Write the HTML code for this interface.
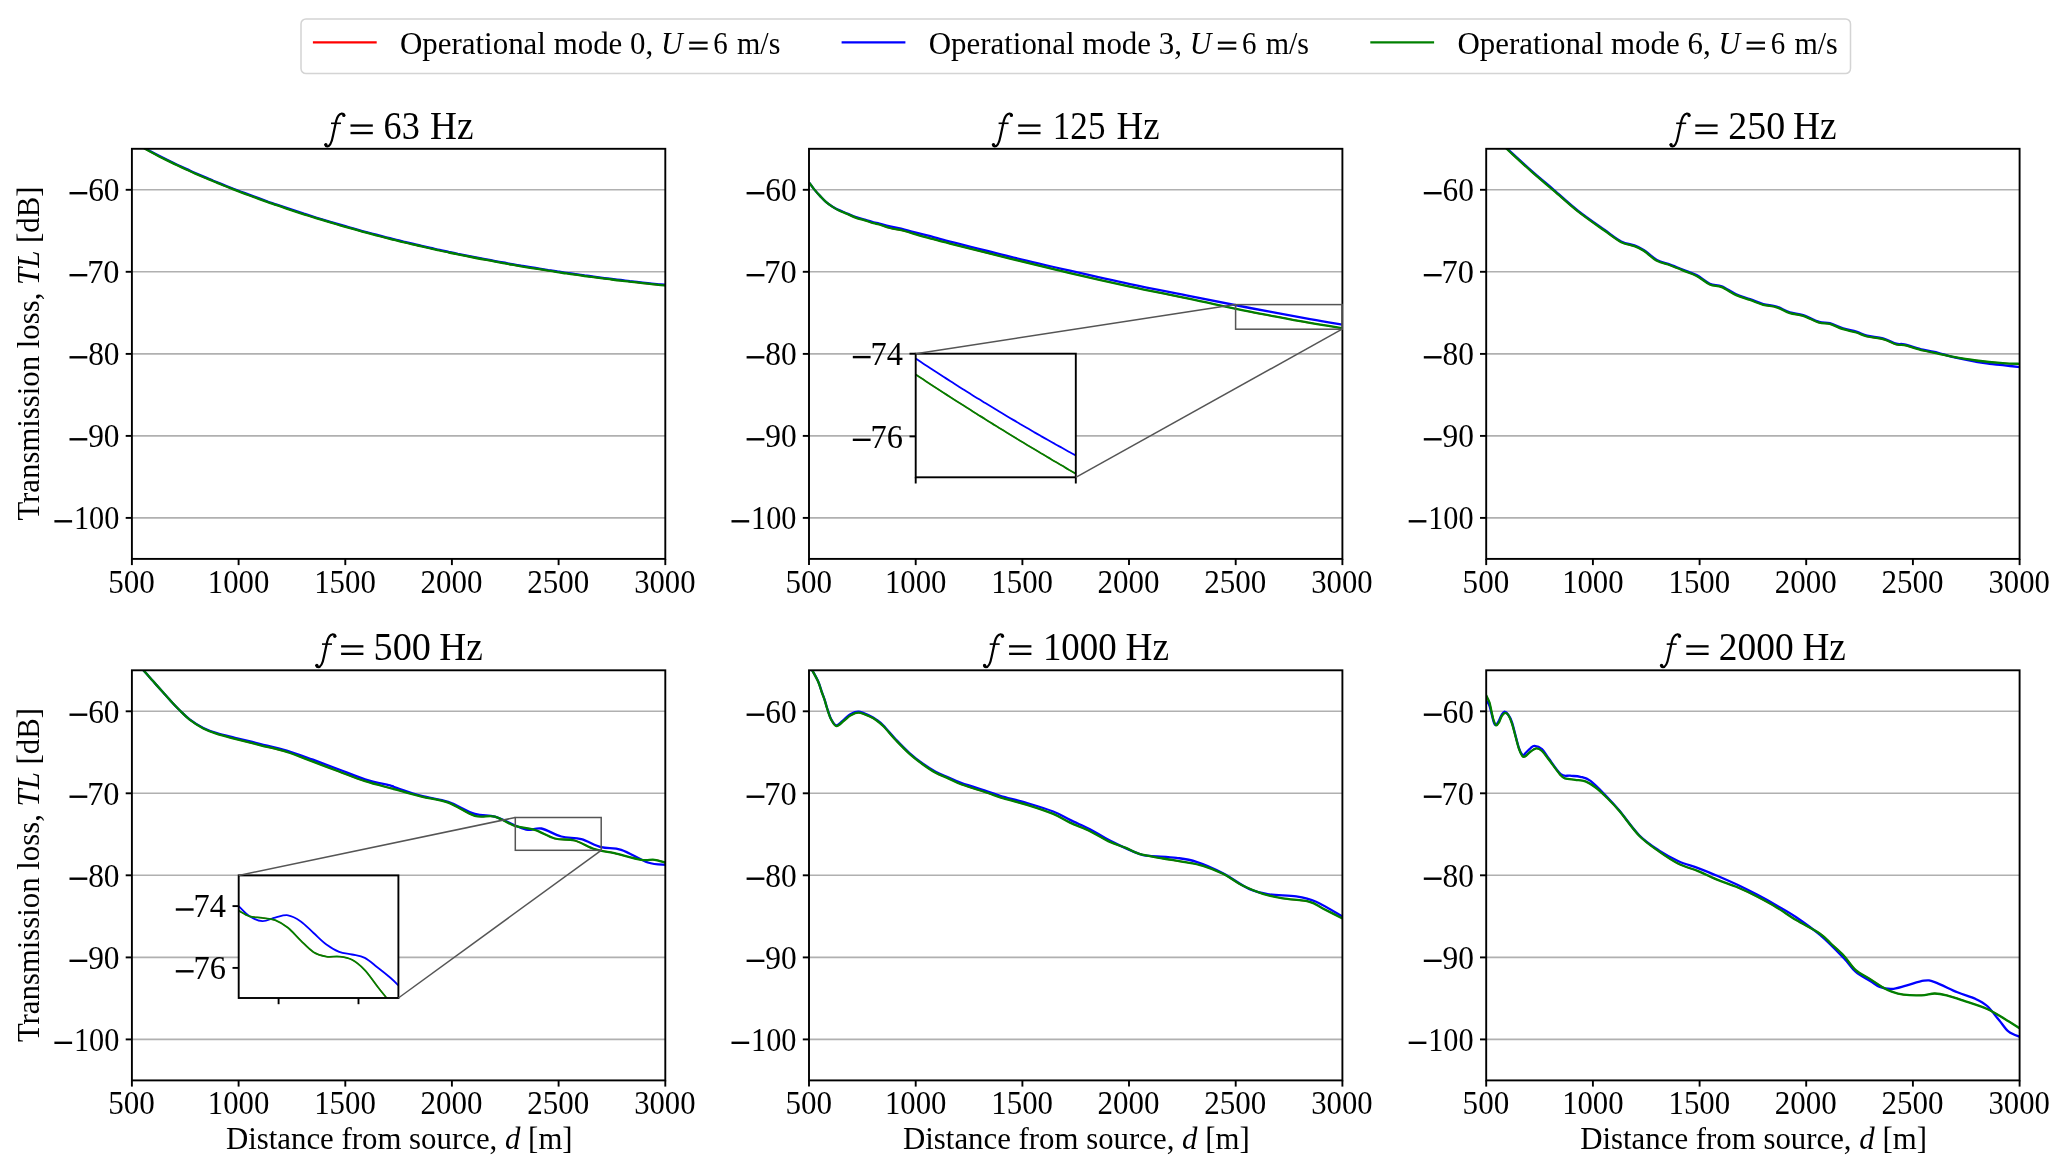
<!DOCTYPE html><html><head><meta charset="utf-8"><style>html,body{margin:0;padding:0;background:#fff;overflow:hidden}svg{display:block;will-change:transform}</style></head><body><svg width="2067" height="1172" viewBox="0 0 2067 1172" font-family="'Liberation Serif', serif" fill="#000"><rect width="2067" height="1172" fill="#fff"/>
<defs>
<clipPath id="c0"><rect x="131.9" y="148.8" width="533.4" height="410.1"/></clipPath>
<clipPath id="c1"><rect x="809.0" y="148.8" width="533.4" height="410.1"/></clipPath>
<clipPath id="c2"><rect x="1486.2" y="148.8" width="533.4" height="410.1"/></clipPath>
<clipPath id="c3"><rect x="131.9" y="670.3" width="533.4" height="410.1"/></clipPath>
<clipPath id="c4"><rect x="809.0" y="670.3" width="533.4" height="410.1"/></clipPath>
<clipPath id="c5"><rect x="1486.2" y="670.3" width="533.4" height="410.1"/></clipPath>
<clipPath id="ci2"><rect x="915.7" y="353.7" width="160.1" height="123.6"/></clipPath>
<clipPath id="ci4"><rect x="238.7" y="875.4" width="159.7" height="122.6"/></clipPath>
</defs>
<line x1="131.9" y1="189.8" x2="665.3" y2="189.8" stroke="#b0b0b0" stroke-width="1.6"/>
<line x1="131.9" y1="271.8" x2="665.3" y2="271.8" stroke="#b0b0b0" stroke-width="1.6"/>
<line x1="131.9" y1="353.9" x2="665.3" y2="353.9" stroke="#b0b0b0" stroke-width="1.6"/>
<line x1="131.9" y1="435.9" x2="665.3" y2="435.9" stroke="#b0b0b0" stroke-width="1.6"/>
<line x1="131.9" y1="517.9" x2="665.3" y2="517.9" stroke="#b0b0b0" stroke-width="1.6"/>
<g clip-path="url(#c0)" fill="none" stroke-linejoin="round">
<path d="M131.9,140.9 C133.4,141.8 137.9,144.7 141.0,146.4 C144.0,148.2 147.0,149.9 150.0,151.6 C153.0,153.2 156.0,154.8 159.1,156.4 C162.1,157.9 165.1,159.4 168.1,160.9 C171.1,162.4 174.1,163.9 177.2,165.3 C180.2,166.7 183.2,168.1 186.2,169.5 C189.2,170.9 192.3,172.2 195.3,173.6 C198.3,174.9 201.3,176.2 204.3,177.5 C207.3,178.8 210.4,180.0 213.4,181.3 C216.4,182.5 219.4,183.8 222.4,185.0 C225.4,186.2 228.5,187.4 231.5,188.6 C234.5,189.8 237.5,190.9 240.5,192.1 C243.5,193.2 246.6,194.4 249.6,195.5 C252.6,196.6 255.6,197.7 258.6,198.8 C261.7,199.9 264.7,201.0 267.7,202.1 C270.7,203.1 273.7,204.2 276.7,205.2 C279.8,206.3 282.8,207.3 285.8,208.3 C288.8,209.3 291.8,210.3 294.8,211.3 C297.9,212.3 300.9,213.3 303.9,214.3 C306.9,215.2 309.9,216.2 313.0,217.1 C316.0,218.1 319.0,219.0 322.0,219.9 C325.0,220.9 328.0,221.8 331.1,222.7 C334.1,223.6 337.1,224.4 340.1,225.3 C343.1,226.2 346.1,227.1 349.2,227.9 C352.2,228.8 355.2,229.6 358.2,230.4 C361.2,231.3 364.2,232.1 367.3,232.9 C370.3,233.7 373.3,234.5 376.3,235.3 C379.3,236.1 382.4,236.9 385.4,237.7 C388.4,238.4 391.4,239.2 394.4,239.9 C397.4,240.7 400.5,241.4 403.5,242.2 C406.5,242.9 409.5,243.6 412.5,244.3 C415.5,245.0 418.6,245.8 421.6,246.4 C424.6,247.1 427.6,247.8 430.6,248.5 C433.7,249.2 436.7,249.8 439.7,250.5 C442.7,251.2 445.7,251.8 448.7,252.5 C451.8,253.1 454.8,253.7 457.8,254.4 C460.8,255.0 463.8,255.6 466.8,256.2 C469.9,256.8 472.9,257.4 475.9,258.0 C478.9,258.6 481.9,259.2 484.9,259.7 C488.0,260.3 491.0,260.9 494.0,261.4 C497.0,262.0 500.0,262.6 503.1,263.1 C506.1,263.6 509.1,264.2 512.1,264.7 C515.1,265.2 518.1,265.7 521.2,266.3 C524.2,266.8 527.2,267.3 530.2,267.8 C533.2,268.3 536.2,268.8 539.3,269.2 C542.3,269.7 545.3,270.2 548.3,270.7 C551.3,271.1 554.4,271.6 557.4,272.1 C560.4,272.5 563.4,273.0 566.4,273.4 C569.4,273.8 572.5,274.3 575.5,274.7 C578.5,275.1 581.5,275.5 584.5,276.0 C587.5,276.4 590.6,276.8 593.6,277.2 C596.6,277.6 599.6,278.0 602.6,278.4 C605.6,278.8 608.7,279.1 611.7,279.5 C614.7,279.9 617.7,280.3 620.7,280.6 C623.8,281.0 626.8,281.3 629.8,281.7 C632.8,282.0 635.8,282.4 638.8,282.7 C641.9,283.1 644.9,283.4 647.9,283.7 C650.9,284.1 653.9,284.4 656.9,284.7 C660.0,285.0 664.5,285.5 666.0,285.6" stroke="#ff0000" stroke-width="1.4"/>
<path d="M131.9,140.3 C133.4,141.2 137.9,144.1 141.0,145.8 C144.0,147.6 147.0,149.3 150.0,151.0 C153.0,152.6 156.0,154.2 159.1,155.8 C162.1,157.3 165.1,158.8 168.1,160.3 C171.1,161.8 174.1,163.3 177.2,164.7 C180.2,166.1 183.2,167.5 186.2,168.9 C189.2,170.3 192.3,171.6 195.3,173.0 C198.3,174.3 201.3,175.6 204.3,176.9 C207.3,178.2 210.4,179.4 213.4,180.7 C216.4,181.9 219.4,183.2 222.4,184.4 C225.4,185.6 228.5,186.8 231.5,188.0 C234.5,189.2 237.5,190.3 240.5,191.5 C243.5,192.6 246.6,193.8 249.6,194.9 C252.6,196.0 255.6,197.1 258.6,198.2 C261.7,199.3 264.7,200.4 267.7,201.5 C270.7,202.5 273.7,203.6 276.7,204.6 C279.8,205.7 282.8,206.7 285.8,207.7 C288.8,208.7 291.8,209.7 294.8,210.7 C297.9,211.7 300.9,212.7 303.9,213.7 C306.9,214.6 309.9,215.6 313.0,216.5 C316.0,217.5 319.0,218.4 322.0,219.3 C325.0,220.3 328.0,221.2 331.1,222.1 C334.1,223.0 337.1,223.8 340.1,224.7 C343.1,225.6 346.1,226.5 349.2,227.3 C352.2,228.2 355.2,229.0 358.2,229.8 C361.2,230.7 364.2,231.5 367.3,232.3 C370.3,233.1 373.3,233.9 376.3,234.7 C379.3,235.5 382.4,236.3 385.4,237.1 C388.4,237.8 391.4,238.6 394.4,239.3 C397.4,240.1 400.5,240.8 403.5,241.6 C406.5,242.3 409.5,243.0 412.5,243.7 C415.5,244.4 418.6,245.2 421.6,245.8 C424.6,246.5 427.6,247.2 430.6,247.9 C433.7,248.6 436.7,249.2 439.7,249.9 C442.7,250.6 445.7,251.2 448.7,251.9 C451.8,252.5 454.8,253.1 457.8,253.8 C460.8,254.4 463.8,255.0 466.8,255.6 C469.9,256.2 472.9,256.8 475.9,257.4 C478.9,258.0 481.9,258.6 484.9,259.1 C488.0,259.7 491.0,260.3 494.0,260.8 C497.0,261.4 500.0,262.0 503.1,262.5 C506.1,263.0 509.1,263.6 512.1,264.1 C515.1,264.6 518.1,265.1 521.2,265.7 C524.2,266.2 527.2,266.7 530.2,267.2 C533.2,267.7 536.2,268.2 539.3,268.6 C542.3,269.1 545.3,269.6 548.3,270.1 C551.3,270.5 554.4,271.0 557.4,271.5 C560.4,271.9 563.4,272.4 566.4,272.8 C569.4,273.2 572.5,273.7 575.5,274.1 C578.5,274.5 581.5,274.9 584.5,275.4 C587.5,275.8 590.6,276.2 593.6,276.6 C596.6,277.0 599.6,277.4 602.6,277.8 C605.6,278.2 608.7,278.5 611.7,278.9 C614.7,279.3 617.7,279.7 620.7,280.0 C623.8,280.4 626.8,280.7 629.8,281.1 C632.8,281.4 635.8,281.8 638.8,282.1 C641.9,282.5 644.9,282.8 647.9,283.1 C650.9,283.5 653.9,283.8 656.9,284.1 C660.0,284.4 664.5,284.9 666.0,285.0" stroke="#0000ff" stroke-width="2.3"/>
<path d="M131.9,140.9 C133.4,141.8 137.9,144.7 141.0,146.4 C144.0,148.2 147.0,149.9 150.0,151.6 C153.0,153.2 156.0,154.8 159.1,156.4 C162.1,157.9 165.1,159.4 168.1,160.9 C171.1,162.4 174.1,163.9 177.2,165.3 C180.2,166.7 183.2,168.1 186.2,169.5 C189.2,170.9 192.3,172.2 195.3,173.6 C198.3,174.9 201.3,176.2 204.3,177.5 C207.3,178.8 210.4,180.0 213.4,181.3 C216.4,182.5 219.4,183.8 222.4,185.0 C225.4,186.2 228.5,187.4 231.5,188.6 C234.5,189.8 237.5,190.9 240.5,192.1 C243.5,193.2 246.6,194.4 249.6,195.5 C252.6,196.6 255.6,197.7 258.6,198.8 C261.7,199.9 264.7,201.0 267.7,202.1 C270.7,203.1 273.7,204.2 276.7,205.2 C279.8,206.3 282.8,207.3 285.8,208.3 C288.8,209.3 291.8,210.3 294.8,211.3 C297.9,212.3 300.9,213.3 303.9,214.3 C306.9,215.2 309.9,216.2 313.0,217.1 C316.0,218.1 319.0,219.0 322.0,219.9 C325.0,220.9 328.0,221.8 331.1,222.7 C334.1,223.6 337.1,224.4 340.1,225.3 C343.1,226.2 346.1,227.1 349.2,227.9 C352.2,228.8 355.2,229.6 358.2,230.4 C361.2,231.3 364.2,232.1 367.3,232.9 C370.3,233.7 373.3,234.5 376.3,235.3 C379.3,236.1 382.4,236.9 385.4,237.7 C388.4,238.4 391.4,239.2 394.4,239.9 C397.4,240.7 400.5,241.4 403.5,242.2 C406.5,242.9 409.5,243.6 412.5,244.3 C415.5,245.0 418.6,245.8 421.6,246.4 C424.6,247.1 427.6,247.8 430.6,248.5 C433.7,249.2 436.7,249.8 439.7,250.5 C442.7,251.2 445.7,251.8 448.7,252.5 C451.8,253.1 454.8,253.7 457.8,254.4 C460.8,255.0 463.8,255.6 466.8,256.2 C469.9,256.8 472.9,257.4 475.9,258.0 C478.9,258.6 481.9,259.2 484.9,259.7 C488.0,260.3 491.0,260.9 494.0,261.4 C497.0,262.0 500.0,262.6 503.1,263.1 C506.1,263.6 509.1,264.2 512.1,264.7 C515.1,265.2 518.1,265.7 521.2,266.3 C524.2,266.8 527.2,267.3 530.2,267.8 C533.2,268.3 536.2,268.8 539.3,269.2 C542.3,269.7 545.3,270.2 548.3,270.7 C551.3,271.1 554.4,271.6 557.4,272.1 C560.4,272.5 563.4,273.0 566.4,273.4 C569.4,273.8 572.5,274.3 575.5,274.7 C578.5,275.1 581.5,275.5 584.5,276.0 C587.5,276.4 590.6,276.8 593.6,277.2 C596.6,277.6 599.6,278.0 602.6,278.4 C605.6,278.8 608.7,279.1 611.7,279.5 C614.7,279.9 617.7,280.3 620.7,280.6 C623.8,281.0 626.8,281.3 629.8,281.7 C632.8,282.0 635.8,282.4 638.8,282.7 C641.9,283.1 644.9,283.4 647.9,283.7 C650.9,284.1 653.9,284.4 656.9,284.7 C660.0,285.0 664.5,285.5 666.0,285.6" stroke="#008000" stroke-width="2.3"/>
</g>
<rect x="131.9" y="148.8" width="533.4" height="410.1" fill="none" stroke="#000" stroke-width="1.9"/>
<line x1="125.7" y1="189.8" x2="131.9" y2="189.8" stroke="#000" stroke-width="1.9"/>
<rect x="69.5" y="192.0" width="17.8" height="2.4"/>
<line x1="125.7" y1="271.8" x2="131.9" y2="271.8" stroke="#000" stroke-width="1.9"/>
<rect x="69.5" y="274.0" width="17.8" height="2.4"/>
<line x1="125.7" y1="353.9" x2="131.9" y2="353.9" stroke="#000" stroke-width="1.9"/>
<rect x="69.5" y="356.1" width="17.8" height="2.4"/>
<line x1="125.7" y1="435.9" x2="131.9" y2="435.9" stroke="#000" stroke-width="1.9"/>
<rect x="69.5" y="438.1" width="17.8" height="2.4"/>
<line x1="125.7" y1="517.9" x2="131.9" y2="517.9" stroke="#000" stroke-width="1.9"/>
<rect x="54.4" y="520.1" width="17.7" height="2.4"/>
<line x1="131.9" y1="558.9" x2="131.9" y2="565.1" stroke="#000" stroke-width="1.9"/>
<line x1="238.6" y1="558.9" x2="238.6" y2="565.1" stroke="#000" stroke-width="1.9"/>
<line x1="345.3" y1="558.9" x2="345.3" y2="565.1" stroke="#000" stroke-width="1.9"/>
<line x1="451.9" y1="558.9" x2="451.9" y2="565.1" stroke="#000" stroke-width="1.9"/>
<line x1="558.6" y1="558.9" x2="558.6" y2="565.1" stroke="#000" stroke-width="1.9"/>
<line x1="665.3" y1="558.9" x2="665.3" y2="565.1" stroke="#000" stroke-width="1.9"/>
<g transform="translate(324.0,139.2)"><path d="M17.6,-25.6 C15.2,-25.4 13.3,-22.5 12.2,-18.5 L9.0,-3.5 C8.0,1.8 6.2,7.2 3.2,7.2 C2.2,7.2 1.5,6.4 1.3,5.5 M17.6,-25.6 C19.0,-25.7 20.3,-25.0 20.3,-24.0" fill="none" stroke="#000" stroke-width="2.2" stroke-linecap="round"/><circle cx="19.8" cy="-23.7" r="1.6"/><circle cx="1.9" cy="5.3" r="1.6"/><rect x="7.0" y="-16.7" width="10.0" height="1.6"/></g>
<rect x="350.5" y="124.4" width="22.3" height="2.3"/><rect x="350.5" y="131.9" width="22.3" height="2.3"/>
<line x1="809.0" y1="189.8" x2="1342.4" y2="189.8" stroke="#b0b0b0" stroke-width="1.6"/>
<line x1="809.0" y1="271.8" x2="1342.4" y2="271.8" stroke="#b0b0b0" stroke-width="1.6"/>
<line x1="809.0" y1="353.9" x2="1342.4" y2="353.9" stroke="#b0b0b0" stroke-width="1.6"/>
<line x1="809.0" y1="435.9" x2="1342.4" y2="435.9" stroke="#b0b0b0" stroke-width="1.6"/>
<line x1="809.0" y1="517.9" x2="1342.4" y2="517.9" stroke="#b0b0b0" stroke-width="1.6"/>
<g clip-path="url(#c1)" fill="none" stroke-linejoin="round">
<path d="M809.0,182.5 C809.1,182.7 809.0,182.3 809.8,183.4 C810.6,184.5 812.3,187.0 814.0,189.1 C815.7,191.2 818.0,193.8 820.0,195.9 C822.0,198.0 823.9,200.2 825.9,201.9 C827.9,203.7 829.8,205.0 831.9,206.4 C834.0,207.8 835.9,208.9 838.5,210.2 C841.1,211.5 844.5,212.7 847.4,214.0 C850.3,215.3 853.2,216.8 856.1,217.8 C859.0,218.9 861.9,219.4 864.8,220.3 C867.7,221.2 871.1,222.5 873.5,223.2 C875.9,223.9 876.5,223.7 879.3,224.5 C882.0,225.3 885.8,226.9 890.0,228.0 C894.2,229.1 899.7,229.8 904.5,231.0 C909.3,232.2 914.2,234.0 919.0,235.4 C923.8,236.8 928.3,237.8 933.5,239.2 C938.7,240.6 937.2,240.4 950.0,243.6 C962.8,246.8 990.0,253.7 1010.0,258.6 C1030.0,263.5 1050.0,268.4 1070.0,273.1 C1090.0,277.8 1110.0,282.3 1130.0,286.6 C1150.0,290.9 1170.0,294.7 1190.0,298.9 C1210.0,303.1 1230.0,307.7 1250.0,311.7 C1270.0,315.7 1294.6,320.1 1310.0,322.9 C1325.4,325.6 1337.1,327.3 1342.5,328.2" stroke="#ff0000" stroke-width="1.4"/>
<path d="M809.0,182.5 C809.1,182.7 809.0,182.3 809.8,183.4 C810.6,184.5 812.3,187.0 814.0,189.1 C815.7,191.2 818.0,193.8 820.0,195.9 C822.0,198.0 823.9,200.2 825.9,201.9 C827.9,203.6 829.8,204.9 831.9,206.2 C834.0,207.5 835.9,208.7 838.5,209.9 C841.1,211.1 844.5,212.4 847.4,213.6 C850.3,214.8 853.2,216.2 856.1,217.2 C859.0,218.2 861.9,218.8 864.8,219.6 C867.7,220.4 871.1,221.6 873.5,222.3 C875.9,223.0 876.5,222.9 879.3,223.6 C882.0,224.3 885.8,225.4 890.0,226.4 C894.2,227.4 899.7,228.4 904.5,229.6 C909.3,230.8 914.2,232.2 919.0,233.4 C923.8,234.7 928.3,235.7 933.5,237.1 C938.7,238.5 937.2,238.3 950.0,241.6 C962.8,244.8 990.0,251.8 1010.0,256.6 C1030.0,261.5 1050.0,266.1 1070.0,270.7 C1090.0,275.3 1110.0,279.9 1130.0,284.2 C1150.0,288.4 1170.0,292.2 1190.0,296.2 C1210.0,300.2 1230.0,304.2 1250.0,308.0 C1270.0,311.8 1294.6,316.4 1310.0,319.2 C1325.4,322.0 1337.1,323.8 1342.5,324.7" stroke="#0000ff" stroke-width="2.3"/>
<path d="M809.0,182.5 C809.1,182.7 809.0,182.3 809.8,183.4 C810.6,184.5 812.3,187.0 814.0,189.1 C815.7,191.2 818.0,193.8 820.0,195.9 C822.0,198.0 823.9,200.2 825.9,201.9 C827.9,203.7 829.8,205.0 831.9,206.4 C834.0,207.8 835.9,208.9 838.5,210.2 C841.1,211.5 844.5,212.7 847.4,214.0 C850.3,215.3 853.2,216.8 856.1,217.8 C859.0,218.9 861.9,219.4 864.8,220.3 C867.7,221.2 871.1,222.5 873.5,223.2 C875.9,223.9 876.5,223.7 879.3,224.5 C882.0,225.3 885.8,226.9 890.0,228.0 C894.2,229.1 899.7,229.8 904.5,231.0 C909.3,232.2 914.2,234.0 919.0,235.4 C923.8,236.8 928.3,237.8 933.5,239.2 C938.7,240.6 937.2,240.4 950.0,243.6 C962.8,246.8 990.0,253.7 1010.0,258.6 C1030.0,263.5 1050.0,268.4 1070.0,273.1 C1090.0,277.8 1110.0,282.3 1130.0,286.6 C1150.0,290.9 1170.0,294.7 1190.0,298.9 C1210.0,303.1 1230.0,307.7 1250.0,311.7 C1270.0,315.7 1294.6,320.1 1310.0,322.9 C1325.4,325.6 1337.1,327.3 1342.5,328.2" stroke="#008000" stroke-width="2.3"/>
</g>
<rect x="809.0" y="148.8" width="533.4" height="410.1" fill="none" stroke="#000" stroke-width="1.9"/>
<line x1="802.8" y1="189.8" x2="809.0" y2="189.8" stroke="#000" stroke-width="1.9"/>
<rect x="746.6" y="192.0" width="17.8" height="2.4"/>
<line x1="802.8" y1="271.8" x2="809.0" y2="271.8" stroke="#000" stroke-width="1.9"/>
<rect x="746.6" y="274.0" width="17.8" height="2.4"/>
<line x1="802.8" y1="353.9" x2="809.0" y2="353.9" stroke="#000" stroke-width="1.9"/>
<rect x="746.6" y="356.1" width="17.8" height="2.4"/>
<line x1="802.8" y1="435.9" x2="809.0" y2="435.9" stroke="#000" stroke-width="1.9"/>
<rect x="746.6" y="438.1" width="17.8" height="2.4"/>
<line x1="802.8" y1="517.9" x2="809.0" y2="517.9" stroke="#000" stroke-width="1.9"/>
<rect x="731.5" y="520.1" width="17.7" height="2.4"/>
<line x1="809.0" y1="558.9" x2="809.0" y2="565.1" stroke="#000" stroke-width="1.9"/>
<line x1="915.7" y1="558.9" x2="915.7" y2="565.1" stroke="#000" stroke-width="1.9"/>
<line x1="1022.4" y1="558.9" x2="1022.4" y2="565.1" stroke="#000" stroke-width="1.9"/>
<line x1="1129.0" y1="558.9" x2="1129.0" y2="565.1" stroke="#000" stroke-width="1.9"/>
<line x1="1235.7" y1="558.9" x2="1235.7" y2="565.1" stroke="#000" stroke-width="1.9"/>
<line x1="1342.4" y1="558.9" x2="1342.4" y2="565.1" stroke="#000" stroke-width="1.9"/>
<g transform="translate(991.6,139.2)"><path d="M17.6,-25.6 C15.2,-25.4 13.3,-22.5 12.2,-18.5 L9.0,-3.5 C8.0,1.8 6.2,7.2 3.2,7.2 C2.2,7.2 1.5,6.4 1.3,5.5 M17.6,-25.6 C19.0,-25.7 20.3,-25.0 20.3,-24.0" fill="none" stroke="#000" stroke-width="2.2" stroke-linecap="round"/><circle cx="19.8" cy="-23.7" r="1.6"/><circle cx="1.9" cy="5.3" r="1.6"/><rect x="7.0" y="-16.7" width="10.0" height="1.6"/></g>
<rect x="1018.2" y="124.4" width="22.3" height="2.3"/><rect x="1018.2" y="131.9" width="22.3" height="2.3"/>
<line x1="1486.2" y1="189.8" x2="2019.6" y2="189.8" stroke="#b0b0b0" stroke-width="1.6"/>
<line x1="1486.2" y1="271.8" x2="2019.6" y2="271.8" stroke="#b0b0b0" stroke-width="1.6"/>
<line x1="1486.2" y1="353.9" x2="2019.6" y2="353.9" stroke="#b0b0b0" stroke-width="1.6"/>
<line x1="1486.2" y1="435.9" x2="2019.6" y2="435.9" stroke="#b0b0b0" stroke-width="1.6"/>
<line x1="1486.2" y1="517.9" x2="2019.6" y2="517.9" stroke="#b0b0b0" stroke-width="1.6"/>
<g clip-path="url(#c2)" fill="none" stroke-linejoin="round">
<path d="M1504.5,146.8 C1504.9,147.2 1502.3,144.9 1506.8,149.0 C1511.3,153.1 1523.5,164.5 1531.3,171.4 C1539.1,178.3 1546.1,184.0 1553.8,190.6 C1561.5,197.2 1569.2,204.5 1577.6,211.1 C1586.0,217.7 1596.7,225.1 1604.0,230.3 C1611.3,235.5 1616.1,239.5 1621.2,242.2 C1626.3,244.8 1630.7,244.8 1634.4,246.2 C1638.2,247.6 1640.0,248.4 1643.7,250.8 C1647.5,253.2 1652.5,258.3 1656.9,260.7 C1661.3,263.1 1665.7,263.6 1670.1,265.3 C1674.5,267.0 1678.9,268.8 1683.3,270.6 C1687.7,272.4 1692.2,273.6 1696.6,275.9 C1701.0,278.2 1705.6,282.6 1709.8,284.5 C1714.0,286.4 1717.3,285.3 1721.7,287.1 C1726.1,288.9 1731.5,293.0 1736.2,295.1 C1740.9,297.2 1745.5,298.3 1750.0,299.9 C1754.5,301.5 1758.9,303.7 1763.3,304.9 C1767.7,306.1 1772.2,305.9 1776.6,307.3 C1781.0,308.7 1785.5,311.8 1789.9,313.2 C1794.3,314.6 1798.3,314.3 1803.2,315.9 C1808.1,317.5 1814.8,321.3 1819.2,322.6 C1823.6,323.9 1825.8,322.8 1829.8,323.9 C1833.8,325.0 1838.7,327.8 1843.1,329.2 C1847.5,330.6 1852.4,331.3 1856.4,332.5 C1860.4,333.7 1862.7,335.4 1867.1,336.5 C1871.5,337.6 1878.1,337.9 1883.0,339.2 C1887.9,340.5 1892.9,343.5 1896.4,344.5 C1900.0,345.5 1899.9,344.2 1904.3,345.2 C1908.7,346.2 1917.2,349.1 1923.0,350.5 C1928.8,351.9 1934.0,352.8 1938.9,353.8 C1943.8,354.8 1946.0,355.6 1952.2,356.7 C1958.4,357.8 1967.8,359.4 1976.2,360.5 C1984.6,361.6 1995.5,362.6 2002.8,363.1 C2010.1,363.7 2017.1,363.7 2020.0,363.8" stroke="#ff0000" stroke-width="1.4"/>
<path d="M1504.5,146.0 C1504.9,146.4 1502.3,144.1 1506.8,148.2 C1511.3,152.3 1523.5,163.7 1531.3,170.6 C1539.1,177.5 1546.1,183.2 1553.8,189.8 C1561.5,196.4 1569.2,203.7 1577.6,210.3 C1586.0,216.9 1596.7,224.3 1604.0,229.5 C1611.3,234.7 1616.1,238.7 1621.2,241.4 C1626.3,244.0 1630.7,244.0 1634.4,245.4 C1638.2,246.8 1640.0,247.6 1643.7,250.0 C1647.5,252.4 1652.5,257.5 1656.9,259.9 C1661.3,262.3 1665.7,262.9 1670.1,264.5 C1674.5,266.1 1678.9,268.0 1683.3,269.8 C1687.7,271.6 1692.2,272.8 1696.6,275.1 C1701.0,277.4 1705.6,281.8 1709.8,283.7 C1714.0,285.6 1717.3,284.5 1721.7,286.3 C1726.1,288.1 1731.5,292.2 1736.2,294.3 C1740.9,296.4 1745.5,297.5 1750.0,299.1 C1754.5,300.7 1758.9,302.9 1763.3,304.1 C1767.7,305.3 1772.2,305.1 1776.6,306.5 C1781.0,307.9 1785.5,311.0 1789.9,312.4 C1794.3,313.8 1798.3,313.5 1803.2,315.1 C1808.1,316.7 1814.8,320.5 1819.2,321.8 C1823.6,323.1 1825.8,322.0 1829.8,323.1 C1833.8,324.2 1838.7,327.0 1843.1,328.4 C1847.5,329.8 1852.4,330.5 1856.4,331.7 C1860.4,332.9 1862.7,334.6 1867.1,335.7 C1871.5,336.8 1878.1,337.1 1883.0,338.4 C1887.9,339.7 1892.9,342.7 1896.4,343.7 C1900.0,344.7 1899.9,343.4 1904.3,344.4 C1908.7,345.4 1917.2,348.3 1923.0,349.7 C1928.8,351.1 1934.0,351.8 1938.9,353.0 C1943.8,354.2 1946.0,355.4 1952.2,356.9 C1958.4,358.4 1970.0,360.6 1976.2,361.8 C1982.4,363.0 1985.1,363.2 1989.5,363.8 C1993.9,364.4 1997.7,364.5 2002.8,365.1 C2007.9,365.7 2017.1,366.9 2020.0,367.2" stroke="#0000ff" stroke-width="2.3"/>
<path d="M1504.5,146.8 C1504.9,147.2 1502.3,144.9 1506.8,149.0 C1511.3,153.1 1523.5,164.5 1531.3,171.4 C1539.1,178.3 1546.1,184.0 1553.8,190.6 C1561.5,197.2 1569.2,204.5 1577.6,211.1 C1586.0,217.7 1596.7,225.1 1604.0,230.3 C1611.3,235.5 1616.1,239.5 1621.2,242.2 C1626.3,244.8 1630.7,244.8 1634.4,246.2 C1638.2,247.6 1640.0,248.4 1643.7,250.8 C1647.5,253.2 1652.5,258.3 1656.9,260.7 C1661.3,263.1 1665.7,263.6 1670.1,265.3 C1674.5,267.0 1678.9,268.8 1683.3,270.6 C1687.7,272.4 1692.2,273.6 1696.6,275.9 C1701.0,278.2 1705.6,282.6 1709.8,284.5 C1714.0,286.4 1717.3,285.3 1721.7,287.1 C1726.1,288.9 1731.5,293.0 1736.2,295.1 C1740.9,297.2 1745.5,298.3 1750.0,299.9 C1754.5,301.5 1758.9,303.7 1763.3,304.9 C1767.7,306.1 1772.2,305.9 1776.6,307.3 C1781.0,308.7 1785.5,311.8 1789.9,313.2 C1794.3,314.6 1798.3,314.3 1803.2,315.9 C1808.1,317.5 1814.8,321.3 1819.2,322.6 C1823.6,323.9 1825.8,322.8 1829.8,323.9 C1833.8,325.0 1838.7,327.8 1843.1,329.2 C1847.5,330.6 1852.4,331.3 1856.4,332.5 C1860.4,333.7 1862.7,335.4 1867.1,336.5 C1871.5,337.6 1878.1,337.9 1883.0,339.2 C1887.9,340.5 1892.9,343.5 1896.4,344.5 C1900.0,345.5 1899.9,344.2 1904.3,345.2 C1908.7,346.2 1917.2,349.1 1923.0,350.5 C1928.8,351.9 1934.0,352.8 1938.9,353.8 C1943.8,354.8 1946.0,355.6 1952.2,356.7 C1958.4,357.8 1967.8,359.4 1976.2,360.5 C1984.6,361.6 1995.5,362.6 2002.8,363.1 C2010.1,363.7 2017.1,363.7 2020.0,363.8" stroke="#008000" stroke-width="2.3"/>
</g>
<rect x="1486.2" y="148.8" width="533.4" height="410.1" fill="none" stroke="#000" stroke-width="1.9"/>
<line x1="1480.0" y1="189.8" x2="1486.2" y2="189.8" stroke="#000" stroke-width="1.9"/>
<rect x="1423.8" y="192.0" width="17.8" height="2.4"/>
<line x1="1480.0" y1="271.8" x2="1486.2" y2="271.8" stroke="#000" stroke-width="1.9"/>
<rect x="1423.8" y="274.0" width="17.8" height="2.4"/>
<line x1="1480.0" y1="353.9" x2="1486.2" y2="353.9" stroke="#000" stroke-width="1.9"/>
<rect x="1423.8" y="356.1" width="17.8" height="2.4"/>
<line x1="1480.0" y1="435.9" x2="1486.2" y2="435.9" stroke="#000" stroke-width="1.9"/>
<rect x="1423.8" y="438.1" width="17.8" height="2.4"/>
<line x1="1480.0" y1="517.9" x2="1486.2" y2="517.9" stroke="#000" stroke-width="1.9"/>
<rect x="1408.7" y="520.1" width="17.7" height="2.4"/>
<line x1="1486.2" y1="558.9" x2="1486.2" y2="565.1" stroke="#000" stroke-width="1.9"/>
<line x1="1592.9" y1="558.9" x2="1592.9" y2="565.1" stroke="#000" stroke-width="1.9"/>
<line x1="1699.6" y1="558.9" x2="1699.6" y2="565.1" stroke="#000" stroke-width="1.9"/>
<line x1="1806.2" y1="558.9" x2="1806.2" y2="565.1" stroke="#000" stroke-width="1.9"/>
<line x1="1912.9" y1="558.9" x2="1912.9" y2="565.1" stroke="#000" stroke-width="1.9"/>
<line x1="2019.6" y1="558.9" x2="2019.6" y2="565.1" stroke="#000" stroke-width="1.9"/>
<g transform="translate(1669.2,139.2)"><path d="M17.6,-25.6 C15.2,-25.4 13.3,-22.5 12.2,-18.5 L9.0,-3.5 C8.0,1.8 6.2,7.2 3.2,7.2 C2.2,7.2 1.5,6.4 1.3,5.5 M17.6,-25.6 C19.0,-25.7 20.3,-25.0 20.3,-24.0" fill="none" stroke="#000" stroke-width="2.2" stroke-linecap="round"/><circle cx="19.8" cy="-23.7" r="1.6"/><circle cx="1.9" cy="5.3" r="1.6"/><rect x="7.0" y="-16.7" width="10.0" height="1.6"/></g>
<rect x="1695.3" y="124.4" width="22.3" height="2.3"/><rect x="1695.3" y="131.9" width="22.3" height="2.3"/>
<line x1="131.9" y1="711.3" x2="665.3" y2="711.3" stroke="#b0b0b0" stroke-width="1.6"/>
<line x1="131.9" y1="793.3" x2="665.3" y2="793.3" stroke="#b0b0b0" stroke-width="1.6"/>
<line x1="131.9" y1="875.3" x2="665.3" y2="875.3" stroke="#b0b0b0" stroke-width="1.6"/>
<line x1="131.9" y1="957.4" x2="665.3" y2="957.4" stroke="#b0b0b0" stroke-width="1.6"/>
<line x1="131.9" y1="1039.4" x2="665.3" y2="1039.4" stroke="#b0b0b0" stroke-width="1.6"/>
<g clip-path="url(#c3)" fill="none" stroke-linejoin="round">
<path d="M140.5,667.5 C141.1,668.0 141.8,668.5 143.9,670.8 C146.0,673.1 149.9,677.6 153.0,681.1 C156.1,684.6 159.3,688.2 162.3,691.6 C165.3,695.0 168.2,698.1 171.0,701.2 C173.8,704.3 176.3,706.9 179.4,710.0 C182.5,713.1 185.6,716.5 189.6,719.6 C193.6,722.7 198.8,726.1 203.3,728.5 C207.9,730.9 211.6,732.2 216.9,733.9 C222.2,735.6 227.7,736.9 235.0,738.8 C242.3,740.7 252.0,743.1 260.6,745.3 C269.2,747.5 278.0,749.2 286.7,751.9 C295.4,754.6 304.2,758.4 312.9,761.7 C321.6,765.0 330.3,768.2 339.0,771.5 C347.7,774.8 356.4,778.4 365.1,781.2 C373.8,784.0 386.2,787.0 391.2,788.4 C396.2,789.8 389.9,787.9 395.0,789.3 C400.1,790.7 412.7,794.4 421.6,796.6 C430.5,798.8 439.3,799.4 448.2,802.6 C457.1,805.8 467.0,813.6 474.8,815.9 C482.6,818.2 488.1,814.9 494.8,816.6 C501.5,818.3 508.1,823.7 514.7,825.9 C521.4,828.1 528.0,827.8 534.7,829.9 C541.4,832.0 548.1,836.7 554.7,838.5 C561.4,840.3 568.0,838.7 574.6,840.5 C581.2,842.3 588.0,847.1 594.6,849.2 C601.2,851.3 606.8,851.4 614.5,853.2 C622.2,855.0 634.5,858.7 641.1,859.8 C647.8,860.9 650.2,859.3 654.4,859.8 C658.5,860.3 664.1,862.3 666.0,862.8" stroke="#ff0000" stroke-width="1.4"/>
<path d="M140.5,667.5 C141.1,668.0 141.8,668.5 143.9,670.8 C146.0,673.1 149.9,677.6 153.0,681.1 C156.1,684.6 159.3,688.2 162.3,691.6 C165.3,695.0 168.2,698.1 171.0,701.2 C173.8,704.3 176.3,707.0 179.4,710.0 C182.5,713.0 185.6,716.4 189.6,719.4 C193.6,722.4 198.8,725.7 203.3,728.0 C207.9,730.3 211.6,731.6 216.9,733.2 C222.2,734.8 227.7,736.0 235.0,737.8 C242.3,739.6 252.0,741.9 260.6,744.0 C269.2,746.1 278.0,748.0 286.7,750.6 C295.4,753.2 304.2,756.6 312.9,759.7 C321.6,762.9 330.3,766.2 339.0,769.5 C347.7,772.8 356.4,776.6 365.1,779.3 C373.8,782.0 386.2,784.5 391.2,785.8 C396.2,787.1 389.9,785.6 395.0,787.3 C400.1,789.0 412.7,793.5 421.6,795.9 C430.5,798.3 439.3,798.9 448.2,801.9 C457.1,804.9 467.0,811.4 474.8,813.9 C482.6,816.4 488.1,814.7 494.8,816.6 C501.5,818.5 509.2,823.0 514.7,825.2 C520.2,827.4 523.5,829.4 528.0,829.9 C532.5,830.4 535.9,827.4 541.4,828.5 C546.9,829.6 554.6,834.7 561.3,836.5 C567.9,838.3 574.6,837.4 581.3,839.2 C587.9,841.0 594.6,845.4 601.2,847.2 C607.9,849.0 613.4,847.2 621.2,849.8 C629.0,852.3 640.3,860.0 647.8,862.5 C655.3,865.0 663.0,864.4 666.0,864.8" stroke="#0000ff" stroke-width="2.3"/>
<path d="M140.5,667.5 C141.1,668.0 141.8,668.5 143.9,670.8 C146.0,673.1 149.9,677.6 153.0,681.1 C156.1,684.6 159.3,688.2 162.3,691.6 C165.3,695.0 168.2,698.1 171.0,701.2 C173.8,704.3 176.3,706.9 179.4,710.0 C182.5,713.1 185.6,716.5 189.6,719.6 C193.6,722.7 198.8,726.1 203.3,728.5 C207.9,730.9 211.6,732.2 216.9,733.9 C222.2,735.6 227.7,736.9 235.0,738.8 C242.3,740.7 252.0,743.1 260.6,745.3 C269.2,747.5 278.0,749.2 286.7,751.9 C295.4,754.6 304.2,758.4 312.9,761.7 C321.6,765.0 330.3,768.2 339.0,771.5 C347.7,774.8 356.4,778.4 365.1,781.2 C373.8,784.0 386.2,787.0 391.2,788.4 C396.2,789.8 389.9,787.9 395.0,789.3 C400.1,790.7 412.7,794.4 421.6,796.6 C430.5,798.8 439.3,799.4 448.2,802.6 C457.1,805.8 467.0,813.6 474.8,815.9 C482.6,818.2 488.1,814.9 494.8,816.6 C501.5,818.3 508.1,823.7 514.7,825.9 C521.4,828.1 528.0,827.8 534.7,829.9 C541.4,832.0 548.1,836.7 554.7,838.5 C561.4,840.3 568.0,838.7 574.6,840.5 C581.2,842.3 588.0,847.1 594.6,849.2 C601.2,851.3 606.8,851.4 614.5,853.2 C622.2,855.0 634.5,858.7 641.1,859.8 C647.8,860.9 650.2,859.3 654.4,859.8 C658.5,860.3 664.1,862.3 666.0,862.8" stroke="#008000" stroke-width="2.3"/>
</g>
<rect x="131.9" y="670.3" width="533.4" height="410.1" fill="none" stroke="#000" stroke-width="1.9"/>
<line x1="125.7" y1="711.3" x2="131.9" y2="711.3" stroke="#000" stroke-width="1.9"/>
<rect x="69.5" y="713.5" width="17.8" height="2.4"/>
<line x1="125.7" y1="793.3" x2="131.9" y2="793.3" stroke="#000" stroke-width="1.9"/>
<rect x="69.5" y="795.5" width="17.8" height="2.4"/>
<line x1="125.7" y1="875.3" x2="131.9" y2="875.3" stroke="#000" stroke-width="1.9"/>
<rect x="69.5" y="877.5" width="17.8" height="2.4"/>
<line x1="125.7" y1="957.4" x2="131.9" y2="957.4" stroke="#000" stroke-width="1.9"/>
<rect x="69.5" y="959.6" width="17.8" height="2.4"/>
<line x1="125.7" y1="1039.4" x2="131.9" y2="1039.4" stroke="#000" stroke-width="1.9"/>
<rect x="54.4" y="1041.6" width="17.7" height="2.4"/>
<line x1="131.9" y1="1080.4" x2="131.9" y2="1086.6" stroke="#000" stroke-width="1.9"/>
<line x1="238.6" y1="1080.4" x2="238.6" y2="1086.6" stroke="#000" stroke-width="1.9"/>
<line x1="345.3" y1="1080.4" x2="345.3" y2="1086.6" stroke="#000" stroke-width="1.9"/>
<line x1="451.9" y1="1080.4" x2="451.9" y2="1086.6" stroke="#000" stroke-width="1.9"/>
<line x1="558.6" y1="1080.4" x2="558.6" y2="1086.6" stroke="#000" stroke-width="1.9"/>
<line x1="665.3" y1="1080.4" x2="665.3" y2="1086.6" stroke="#000" stroke-width="1.9"/>
<g transform="translate(315.0,660.0)"><path d="M17.6,-25.6 C15.2,-25.4 13.3,-22.5 12.2,-18.5 L9.0,-3.5 C8.0,1.8 6.2,7.2 3.2,7.2 C2.2,7.2 1.5,6.4 1.3,5.5 M17.6,-25.6 C19.0,-25.7 20.3,-25.0 20.3,-24.0" fill="none" stroke="#000" stroke-width="2.2" stroke-linecap="round"/><circle cx="19.8" cy="-23.7" r="1.6"/><circle cx="1.9" cy="5.3" r="1.6"/><rect x="7.0" y="-16.7" width="10.0" height="1.6"/></g>
<rect x="341.1" y="645.2" width="22.3" height="2.3"/><rect x="341.1" y="652.7" width="22.3" height="2.3"/>
<line x1="809.0" y1="711.3" x2="1342.4" y2="711.3" stroke="#b0b0b0" stroke-width="1.6"/>
<line x1="809.0" y1="793.3" x2="1342.4" y2="793.3" stroke="#b0b0b0" stroke-width="1.6"/>
<line x1="809.0" y1="875.3" x2="1342.4" y2="875.3" stroke="#b0b0b0" stroke-width="1.6"/>
<line x1="809.0" y1="957.4" x2="1342.4" y2="957.4" stroke="#b0b0b0" stroke-width="1.6"/>
<line x1="809.0" y1="1039.4" x2="1342.4" y2="1039.4" stroke="#b0b0b0" stroke-width="1.6"/>
<g clip-path="url(#c4)" fill="none" stroke-linejoin="round">
<path d="M810.5,666.0 C810.8,666.7 810.9,667.6 812.2,670.2 C813.5,672.8 816.5,677.9 818.1,681.5 C819.7,685.1 820.6,688.9 821.7,692.0 C822.8,695.1 823.7,697.2 824.6,700.0 C825.5,702.8 826.0,705.2 827.1,708.5 C828.2,711.8 829.5,716.6 831.1,719.5 C832.7,722.4 834.3,725.9 836.5,726.1 C838.7,726.3 841.8,722.3 844.2,720.5 C846.6,718.7 848.3,716.6 850.7,715.3 C853.1,714.0 855.4,712.5 858.7,712.7 C862.0,713.0 867.4,715.5 870.3,716.8 C873.2,718.1 874.1,718.7 876.3,720.3 C878.5,721.9 880.0,722.8 883.4,726.2 C886.8,729.6 892.0,736.2 896.4,740.8 C900.8,745.4 905.1,749.9 909.5,753.8 C913.9,757.7 918.2,761.1 922.6,764.3 C927.0,767.5 931.2,770.4 935.6,772.8 C940.0,775.2 944.4,776.6 948.7,778.6 C953.1,780.6 955.2,782.1 961.7,784.5 C968.2,786.9 981.4,790.8 987.9,793.0 C994.4,795.2 994.4,795.6 1000.9,797.6 C1007.4,799.6 1018.3,802.1 1027.0,804.8 C1035.7,807.5 1046.0,810.9 1053.2,813.9 C1060.4,816.9 1063.9,819.7 1070.0,822.6 C1076.1,825.5 1083.3,828.0 1090.0,831.2 C1096.7,834.4 1103.9,839.1 1109.9,841.9 C1115.9,844.7 1121.0,845.9 1125.9,847.9 C1130.8,849.9 1133.0,852.1 1139.2,853.9 C1145.4,855.7 1155.8,857.2 1163.1,858.5 C1170.4,859.8 1176.4,860.6 1183.1,861.8 C1189.8,863.0 1196.3,863.8 1203.0,865.8 C1209.7,867.8 1216.3,870.5 1223.0,873.8 C1229.7,877.1 1236.3,882.5 1243.0,885.8 C1249.7,889.1 1256.2,891.7 1262.9,893.8 C1269.6,895.9 1275.1,897.1 1282.9,898.4 C1290.7,899.7 1302.8,900.1 1309.5,901.8 C1316.2,903.5 1317.3,905.6 1322.8,908.4 C1328.3,911.2 1339.2,916.8 1342.5,918.5" stroke="#ff0000" stroke-width="1.4"/>
<path d="M810.5,666.0 C810.8,666.7 810.9,667.7 812.2,670.2 C813.5,672.7 816.5,677.6 818.1,681.2 C819.7,684.8 820.6,688.5 821.7,691.6 C822.8,694.7 823.7,696.9 824.6,699.6 C825.5,702.3 826.0,704.8 827.1,708.0 C828.2,711.2 829.5,716.1 831.1,719.0 C832.7,721.9 834.3,725.4 836.5,725.4 C838.7,725.4 841.8,721.2 844.2,719.3 C846.6,717.4 848.3,715.3 850.7,714.0 C853.1,712.7 855.4,711.4 858.7,711.7 C862.0,712.0 867.4,714.7 870.3,716.0 C873.2,717.3 874.1,718.0 876.3,719.6 C878.5,721.2 880.0,722.1 883.4,725.5 C886.8,728.9 892.0,735.4 896.4,740.0 C900.8,744.6 905.1,749.1 909.5,753.0 C913.9,756.9 918.2,760.4 922.6,763.5 C927.0,766.6 931.2,769.4 935.6,771.8 C940.0,774.1 944.4,775.7 948.7,777.6 C953.1,779.5 955.2,780.9 961.7,783.2 C968.2,785.5 981.4,789.4 987.9,791.5 C994.4,793.6 994.4,794.1 1000.9,796.0 C1007.4,797.9 1018.3,800.4 1027.0,803.0 C1035.7,805.6 1046.0,808.7 1053.2,811.5 C1060.4,814.3 1063.9,816.9 1070.0,819.9 C1076.1,822.9 1083.3,825.8 1090.0,829.2 C1096.7,832.7 1101.7,836.5 1109.9,840.6 C1118.1,844.7 1132.6,851.4 1139.2,853.9 C1145.8,856.4 1143.6,855.2 1149.8,855.9 C1156.0,856.6 1168.6,856.9 1176.4,857.9 C1184.2,858.9 1188.6,859.2 1196.4,861.8 C1204.2,864.3 1214.1,868.7 1223.0,873.2 C1231.9,877.8 1241.8,885.6 1249.6,889.1 C1257.4,892.6 1261.8,893.2 1269.6,894.4 C1277.4,895.6 1288.5,895.2 1296.2,896.4 C1304.0,897.6 1308.4,898.4 1316.1,901.8 C1323.8,905.2 1338.1,914.1 1342.5,916.6" stroke="#0000ff" stroke-width="2.3"/>
<path d="M810.5,666.0 C810.8,666.7 810.9,667.6 812.2,670.2 C813.5,672.8 816.5,677.9 818.1,681.5 C819.7,685.1 820.6,688.9 821.7,692.0 C822.8,695.1 823.7,697.2 824.6,700.0 C825.5,702.8 826.0,705.2 827.1,708.5 C828.2,711.8 829.5,716.6 831.1,719.5 C832.7,722.4 834.3,725.9 836.5,726.1 C838.7,726.3 841.8,722.3 844.2,720.5 C846.6,718.7 848.3,716.6 850.7,715.3 C853.1,714.0 855.4,712.5 858.7,712.7 C862.0,713.0 867.4,715.5 870.3,716.8 C873.2,718.1 874.1,718.7 876.3,720.3 C878.5,721.9 880.0,722.8 883.4,726.2 C886.8,729.6 892.0,736.2 896.4,740.8 C900.8,745.4 905.1,749.9 909.5,753.8 C913.9,757.7 918.2,761.1 922.6,764.3 C927.0,767.5 931.2,770.4 935.6,772.8 C940.0,775.2 944.4,776.6 948.7,778.6 C953.1,780.6 955.2,782.1 961.7,784.5 C968.2,786.9 981.4,790.8 987.9,793.0 C994.4,795.2 994.4,795.6 1000.9,797.6 C1007.4,799.6 1018.3,802.1 1027.0,804.8 C1035.7,807.5 1046.0,810.9 1053.2,813.9 C1060.4,816.9 1063.9,819.7 1070.0,822.6 C1076.1,825.5 1083.3,828.0 1090.0,831.2 C1096.7,834.4 1103.9,839.1 1109.9,841.9 C1115.9,844.7 1121.0,845.9 1125.9,847.9 C1130.8,849.9 1133.0,852.1 1139.2,853.9 C1145.4,855.7 1155.8,857.2 1163.1,858.5 C1170.4,859.8 1176.4,860.6 1183.1,861.8 C1189.8,863.0 1196.3,863.8 1203.0,865.8 C1209.7,867.8 1216.3,870.5 1223.0,873.8 C1229.7,877.1 1236.3,882.5 1243.0,885.8 C1249.7,889.1 1256.2,891.7 1262.9,893.8 C1269.6,895.9 1275.1,897.1 1282.9,898.4 C1290.7,899.7 1302.8,900.1 1309.5,901.8 C1316.2,903.5 1317.3,905.6 1322.8,908.4 C1328.3,911.2 1339.2,916.8 1342.5,918.5" stroke="#008000" stroke-width="2.3"/>
</g>
<rect x="809.0" y="670.3" width="533.4" height="410.1" fill="none" stroke="#000" stroke-width="1.9"/>
<line x1="802.8" y1="711.3" x2="809.0" y2="711.3" stroke="#000" stroke-width="1.9"/>
<rect x="746.6" y="713.5" width="17.8" height="2.4"/>
<line x1="802.8" y1="793.3" x2="809.0" y2="793.3" stroke="#000" stroke-width="1.9"/>
<rect x="746.6" y="795.5" width="17.8" height="2.4"/>
<line x1="802.8" y1="875.3" x2="809.0" y2="875.3" stroke="#000" stroke-width="1.9"/>
<rect x="746.6" y="877.5" width="17.8" height="2.4"/>
<line x1="802.8" y1="957.4" x2="809.0" y2="957.4" stroke="#000" stroke-width="1.9"/>
<rect x="746.6" y="959.6" width="17.8" height="2.4"/>
<line x1="802.8" y1="1039.4" x2="809.0" y2="1039.4" stroke="#000" stroke-width="1.9"/>
<rect x="731.5" y="1041.6" width="17.7" height="2.4"/>
<line x1="809.0" y1="1080.4" x2="809.0" y2="1086.6" stroke="#000" stroke-width="1.9"/>
<line x1="915.7" y1="1080.4" x2="915.7" y2="1086.6" stroke="#000" stroke-width="1.9"/>
<line x1="1022.4" y1="1080.4" x2="1022.4" y2="1086.6" stroke="#000" stroke-width="1.9"/>
<line x1="1129.0" y1="1080.4" x2="1129.0" y2="1086.6" stroke="#000" stroke-width="1.9"/>
<line x1="1235.7" y1="1080.4" x2="1235.7" y2="1086.6" stroke="#000" stroke-width="1.9"/>
<line x1="1342.4" y1="1080.4" x2="1342.4" y2="1086.6" stroke="#000" stroke-width="1.9"/>
<g transform="translate(982.7,660.0)"><path d="M17.6,-25.6 C15.2,-25.4 13.3,-22.5 12.2,-18.5 L9.0,-3.5 C8.0,1.8 6.2,7.2 3.2,7.2 C2.2,7.2 1.5,6.4 1.3,5.5 M17.6,-25.6 C19.0,-25.7 20.3,-25.0 20.3,-24.0" fill="none" stroke="#000" stroke-width="2.2" stroke-linecap="round"/><circle cx="19.8" cy="-23.7" r="1.6"/><circle cx="1.9" cy="5.3" r="1.6"/><rect x="7.0" y="-16.7" width="10.0" height="1.6"/></g>
<rect x="1009.1" y="645.2" width="22.3" height="2.3"/><rect x="1009.1" y="652.7" width="22.3" height="2.3"/>
<line x1="1486.2" y1="711.3" x2="2019.6" y2="711.3" stroke="#b0b0b0" stroke-width="1.6"/>
<line x1="1486.2" y1="793.3" x2="2019.6" y2="793.3" stroke="#b0b0b0" stroke-width="1.6"/>
<line x1="1486.2" y1="875.3" x2="2019.6" y2="875.3" stroke="#b0b0b0" stroke-width="1.6"/>
<line x1="1486.2" y1="957.4" x2="2019.6" y2="957.4" stroke="#b0b0b0" stroke-width="1.6"/>
<line x1="1486.2" y1="1039.4" x2="2019.6" y2="1039.4" stroke="#b0b0b0" stroke-width="1.6"/>
<g clip-path="url(#c5)" fill="none" stroke-linejoin="round">
<path d="M1486.2,695.2 C1486.3,695.4 1486.2,695.2 1486.7,696.4 C1487.2,697.6 1488.7,700.0 1489.5,702.5 C1490.3,705.0 1490.8,708.4 1491.5,711.4 C1492.2,714.4 1492.8,718.0 1493.6,720.3 C1494.4,722.6 1495.4,725.1 1496.3,725.4 C1497.2,725.7 1498.1,723.8 1499.0,722.3 C1499.9,720.8 1500.7,717.8 1501.7,716.2 C1502.7,714.6 1504.1,712.9 1505.2,712.8 C1506.3,712.7 1507.5,713.7 1508.6,715.5 C1509.7,717.3 1510.9,720.3 1512.0,723.7 C1513.1,727.1 1514.3,731.9 1515.4,736.0 C1516.5,740.1 1517.7,745.0 1518.8,748.3 C1519.9,751.6 1521.2,754.4 1522.2,755.8 C1523.2,757.2 1523.6,757.2 1525.0,756.5 C1526.4,755.8 1528.5,753.1 1530.4,751.7 C1532.3,750.3 1534.7,748.4 1536.6,748.3 C1538.5,748.2 1540.0,749.1 1542.0,751.0 C1544.0,752.9 1545.8,755.6 1548.8,759.5 C1551.8,763.4 1557.1,771.1 1559.8,774.2 C1562.5,777.3 1562.3,777.4 1564.9,778.3 C1567.5,779.2 1571.8,779.3 1575.2,779.8 C1578.6,780.3 1582.0,780.1 1585.4,781.4 C1588.8,782.7 1592.2,785.0 1595.6,787.5 C1599.0,790.0 1601.9,792.8 1605.9,796.7 C1609.9,800.7 1614.0,804.7 1619.6,811.2 C1625.1,817.7 1632.7,829.0 1639.2,835.7 C1645.8,842.4 1652.4,846.7 1658.9,851.4 C1665.5,856.1 1672.0,860.5 1678.5,863.8 C1685.0,867.1 1691.6,868.4 1698.1,871.1 C1704.6,873.8 1711.2,877.2 1717.7,879.9 C1724.2,882.6 1730.9,884.5 1737.4,887.3 C1744.0,890.1 1750.5,893.2 1757.0,896.6 C1763.5,900.0 1770.1,903.5 1776.6,907.4 C1783.1,911.3 1789.0,915.7 1796.2,920.1 C1803.4,924.5 1814.0,929.6 1820.0,933.7 C1826.0,937.8 1827.9,940.8 1831.9,944.5 C1835.9,948.2 1839.9,951.5 1843.9,955.8 C1847.9,960.1 1851.4,966.3 1855.8,970.2 C1860.2,974.1 1865.8,976.3 1870.2,979.1 C1874.6,981.9 1878.5,984.8 1882.1,986.9 C1885.7,989.0 1888.1,990.4 1891.7,991.7 C1895.3,993.0 1898.6,994.1 1903.6,994.7 C1908.6,995.3 1916.3,995.5 1921.5,995.3 C1926.7,995.1 1930.5,993.5 1934.7,993.5 C1938.9,993.5 1941.8,994.1 1946.6,995.3 C1951.4,996.5 1956.6,998.3 1963.4,1000.6 C1970.2,1002.9 1980.2,1005.9 1987.2,1009.0 C1994.2,1012.1 1999.7,1016.0 2005.2,1019.2 C2010.7,1022.5 2017.5,1027.0 2020.0,1028.5" stroke="#ff0000" stroke-width="1.4"/>
<path d="M1486.2,700.2 C1486.3,700.4 1486.2,700.2 1486.7,701.2 C1487.2,702.2 1488.3,702.5 1489.5,705.9 C1490.7,709.3 1492.6,718.4 1493.6,721.6 C1494.6,724.8 1494.8,725.1 1495.6,725.1 C1496.4,725.1 1497.5,723.2 1498.5,721.5 C1499.5,719.8 1500.7,716.4 1501.7,714.8 C1502.7,713.2 1503.5,711.8 1504.5,711.7 C1505.5,711.7 1506.8,712.7 1508.0,714.5 C1509.2,716.3 1510.2,716.8 1512.0,722.3 C1513.8,727.8 1517.0,742.1 1518.8,747.6 C1520.6,753.1 1521.7,754.3 1522.9,755.1 C1524.1,755.9 1524.8,753.6 1526.0,752.5 C1527.2,751.4 1529.0,749.4 1530.4,748.3 C1531.8,747.2 1532.6,745.8 1534.5,745.9 C1536.4,746.0 1539.6,746.9 1542.0,749.0 C1544.4,751.1 1545.7,754.3 1548.8,758.5 C1551.9,762.7 1557.3,771.3 1560.8,774.2 C1564.3,777.1 1566.8,775.3 1570.0,775.7 C1573.2,776.1 1576.9,775.9 1580.3,776.8 C1583.7,777.7 1586.2,777.8 1590.5,780.9 C1594.8,784.0 1601.1,790.7 1605.9,795.7 C1610.8,800.7 1614.0,804.2 1619.6,810.8 C1625.1,817.4 1632.7,828.6 1639.2,835.2 C1645.8,841.8 1652.4,846.1 1658.9,850.4 C1665.5,854.7 1672.0,858.2 1678.5,861.2 C1685.0,864.2 1691.6,865.6 1698.1,868.1 C1704.6,870.6 1711.2,873.2 1717.7,876.0 C1724.2,878.8 1730.9,881.7 1737.4,884.8 C1744.0,887.9 1750.5,891.2 1757.0,894.6 C1763.5,898.0 1770.1,901.6 1776.6,905.4 C1783.1,909.2 1789.0,912.3 1796.2,917.2 C1803.4,922.1 1812.0,928.1 1820.0,934.9 C1828.0,941.7 1837.9,952.0 1843.9,958.2 C1849.9,964.4 1851.4,968.2 1855.8,972.0 C1860.2,975.8 1866.2,978.4 1870.2,980.9 C1874.2,983.4 1876.1,985.5 1879.7,986.9 C1883.3,988.2 1887.3,989.2 1891.7,989.0 C1896.1,988.8 1900.6,987.1 1906.0,985.7 C1911.4,984.3 1919.1,981.3 1923.9,980.7 C1928.7,980.1 1929.1,980.2 1934.7,982.1 C1940.3,984.0 1950.6,989.5 1957.4,992.3 C1964.2,995.1 1970.3,996.5 1975.3,998.8 C1980.3,1001.1 1983.2,1002.4 1987.2,1006.0 C1991.2,1009.6 1995.6,1016.0 1999.2,1020.3 C2002.8,1024.6 2005.2,1029.0 2008.7,1031.7 C2012.2,1034.5 2018.1,1036.0 2020.0,1036.8" stroke="#0000ff" stroke-width="2.3"/>
<path d="M1486.2,695.2 C1486.3,695.4 1486.2,695.2 1486.7,696.4 C1487.2,697.6 1488.7,700.0 1489.5,702.5 C1490.3,705.0 1490.8,708.4 1491.5,711.4 C1492.2,714.4 1492.8,718.0 1493.6,720.3 C1494.4,722.6 1495.4,725.1 1496.3,725.4 C1497.2,725.7 1498.1,723.8 1499.0,722.3 C1499.9,720.8 1500.7,717.8 1501.7,716.2 C1502.7,714.6 1504.1,712.9 1505.2,712.8 C1506.3,712.7 1507.5,713.7 1508.6,715.5 C1509.7,717.3 1510.9,720.3 1512.0,723.7 C1513.1,727.1 1514.3,731.9 1515.4,736.0 C1516.5,740.1 1517.7,745.0 1518.8,748.3 C1519.9,751.6 1521.2,754.4 1522.2,755.8 C1523.2,757.2 1523.6,757.2 1525.0,756.5 C1526.4,755.8 1528.5,753.1 1530.4,751.7 C1532.3,750.3 1534.7,748.4 1536.6,748.3 C1538.5,748.2 1540.0,749.1 1542.0,751.0 C1544.0,752.9 1545.8,755.6 1548.8,759.5 C1551.8,763.4 1557.1,771.1 1559.8,774.2 C1562.5,777.3 1562.3,777.4 1564.9,778.3 C1567.5,779.2 1571.8,779.3 1575.2,779.8 C1578.6,780.3 1582.0,780.1 1585.4,781.4 C1588.8,782.7 1592.2,785.0 1595.6,787.5 C1599.0,790.0 1601.9,792.8 1605.9,796.7 C1609.9,800.7 1614.0,804.7 1619.6,811.2 C1625.1,817.7 1632.7,829.0 1639.2,835.7 C1645.8,842.4 1652.4,846.7 1658.9,851.4 C1665.5,856.1 1672.0,860.5 1678.5,863.8 C1685.0,867.1 1691.6,868.4 1698.1,871.1 C1704.6,873.8 1711.2,877.2 1717.7,879.9 C1724.2,882.6 1730.9,884.5 1737.4,887.3 C1744.0,890.1 1750.5,893.2 1757.0,896.6 C1763.5,900.0 1770.1,903.5 1776.6,907.4 C1783.1,911.3 1789.0,915.7 1796.2,920.1 C1803.4,924.5 1814.0,929.6 1820.0,933.7 C1826.0,937.8 1827.9,940.8 1831.9,944.5 C1835.9,948.2 1839.9,951.5 1843.9,955.8 C1847.9,960.1 1851.4,966.3 1855.8,970.2 C1860.2,974.1 1865.8,976.3 1870.2,979.1 C1874.6,981.9 1878.5,984.8 1882.1,986.9 C1885.7,989.0 1888.1,990.4 1891.7,991.7 C1895.3,993.0 1898.6,994.1 1903.6,994.7 C1908.6,995.3 1916.3,995.5 1921.5,995.3 C1926.7,995.1 1930.5,993.5 1934.7,993.5 C1938.9,993.5 1941.8,994.1 1946.6,995.3 C1951.4,996.5 1956.6,998.3 1963.4,1000.6 C1970.2,1002.9 1980.2,1005.9 1987.2,1009.0 C1994.2,1012.1 1999.7,1016.0 2005.2,1019.2 C2010.7,1022.5 2017.5,1027.0 2020.0,1028.5" stroke="#008000" stroke-width="2.3"/>
</g>
<rect x="1486.2" y="670.3" width="533.4" height="410.1" fill="none" stroke="#000" stroke-width="1.9"/>
<line x1="1480.0" y1="711.3" x2="1486.2" y2="711.3" stroke="#000" stroke-width="1.9"/>
<rect x="1423.8" y="713.5" width="17.8" height="2.4"/>
<line x1="1480.0" y1="793.3" x2="1486.2" y2="793.3" stroke="#000" stroke-width="1.9"/>
<rect x="1423.8" y="795.5" width="17.8" height="2.4"/>
<line x1="1480.0" y1="875.3" x2="1486.2" y2="875.3" stroke="#000" stroke-width="1.9"/>
<rect x="1423.8" y="877.5" width="17.8" height="2.4"/>
<line x1="1480.0" y1="957.4" x2="1486.2" y2="957.4" stroke="#000" stroke-width="1.9"/>
<rect x="1423.8" y="959.6" width="17.8" height="2.4"/>
<line x1="1480.0" y1="1039.4" x2="1486.2" y2="1039.4" stroke="#000" stroke-width="1.9"/>
<rect x="1408.7" y="1041.6" width="17.7" height="2.4"/>
<line x1="1486.2" y1="1080.4" x2="1486.2" y2="1086.6" stroke="#000" stroke-width="1.9"/>
<line x1="1592.9" y1="1080.4" x2="1592.9" y2="1086.6" stroke="#000" stroke-width="1.9"/>
<line x1="1699.6" y1="1080.4" x2="1699.6" y2="1086.6" stroke="#000" stroke-width="1.9"/>
<line x1="1806.2" y1="1080.4" x2="1806.2" y2="1086.6" stroke="#000" stroke-width="1.9"/>
<line x1="1912.9" y1="1080.4" x2="1912.9" y2="1086.6" stroke="#000" stroke-width="1.9"/>
<line x1="2019.6" y1="1080.4" x2="2019.6" y2="1086.6" stroke="#000" stroke-width="1.9"/>
<g transform="translate(1659.7,660.0)"><path d="M17.6,-25.6 C15.2,-25.4 13.3,-22.5 12.2,-18.5 L9.0,-3.5 C8.0,1.8 6.2,7.2 3.2,7.2 C2.2,7.2 1.5,6.4 1.3,5.5 M17.6,-25.6 C19.0,-25.7 20.3,-25.0 20.3,-24.0" fill="none" stroke="#000" stroke-width="2.2" stroke-linecap="round"/><circle cx="19.8" cy="-23.7" r="1.6"/><circle cx="1.9" cy="5.3" r="1.6"/><rect x="7.0" y="-16.7" width="10.0" height="1.6"/></g>
<rect x="1686.3" y="645.2" width="22.3" height="2.3"/><rect x="1686.3" y="652.7" width="22.3" height="2.3"/>
<rect x="915.7" y="353.7" width="160.1" height="123.6" fill="#fff"/>
<g clip-path="url(#ci2)" fill="none" stroke-linejoin="round">
<path d="M915.7,374.5 C916.9,375.3 920.3,377.6 922.7,379.1 C925.0,380.6 927.3,382.2 929.6,383.7 C931.9,385.2 934.3,386.7 936.6,388.2 C938.9,389.7 941.2,391.2 943.5,392.7 C945.9,394.2 948.2,395.7 950.5,397.2 C952.8,398.7 955.1,400.2 957.5,401.7 C959.8,403.1 962.1,404.6 964.4,406.1 C966.7,407.6 969.1,409.0 971.4,410.5 C973.7,412.0 976.0,413.4 978.3,414.9 C980.7,416.4 983.0,417.8 985.3,419.3 C987.6,420.7 989.9,422.2 992.3,423.6 C994.6,425.0 996.9,426.5 999.2,427.9 C1001.6,429.3 1003.9,430.8 1006.2,432.2 C1008.5,433.6 1010.8,435.0 1013.2,436.5 C1015.5,437.9 1017.8,439.3 1020.1,440.7 C1022.4,442.1 1024.8,443.5 1027.1,444.9 C1029.4,446.3 1031.7,447.7 1034.0,449.1 C1036.4,450.5 1038.7,451.9 1041.0,453.3 C1043.3,454.6 1045.6,456.0 1048.0,457.4 C1050.3,458.8 1052.6,460.1 1054.9,461.5 C1057.2,462.9 1059.6,464.2 1061.9,465.6 C1064.2,467.0 1066.5,468.3 1068.8,469.7 C1071.2,471.0 1074.6,473.0 1075.8,473.7" stroke="#ff0000" stroke-width="1.2"/>
<path d="M915.7,358.6 C916.9,359.4 920.3,361.7 922.7,363.2 C925.0,364.7 927.3,366.3 929.6,367.8 C931.9,369.3 934.3,370.8 936.6,372.3 C938.9,373.8 941.2,375.3 943.5,376.8 C945.9,378.3 948.2,379.8 950.5,381.3 C952.8,382.8 955.1,384.2 957.5,385.7 C959.8,387.2 962.1,388.6 964.4,390.1 C966.7,391.6 969.1,393.0 971.4,394.5 C973.7,395.9 976.0,397.4 978.3,398.8 C980.7,400.2 983.0,401.7 985.3,403.1 C987.6,404.5 989.9,405.9 992.3,407.3 C994.6,408.7 996.9,410.1 999.2,411.5 C1001.6,412.9 1003.9,414.3 1006.2,415.7 C1008.5,417.1 1010.8,418.5 1013.2,419.9 C1015.5,421.2 1017.8,422.6 1020.1,424.0 C1022.4,425.3 1024.8,426.7 1027.1,428.0 C1029.4,429.4 1031.7,430.7 1034.0,432.1 C1036.4,433.4 1038.7,434.7 1041.0,436.1 C1043.3,437.4 1045.6,438.7 1048.0,440.0 C1050.3,441.3 1052.6,442.6 1054.9,443.9 C1057.2,445.3 1059.6,446.5 1061.9,447.8 C1064.2,449.1 1066.5,450.4 1068.8,451.7 C1071.2,453.0 1074.6,454.9 1075.8,455.5" stroke="#0000ff" stroke-width="1.8"/>
<path d="M915.7,374.5 C916.9,375.3 920.3,377.6 922.7,379.1 C925.0,380.6 927.3,382.2 929.6,383.7 C931.9,385.2 934.3,386.7 936.6,388.2 C938.9,389.7 941.2,391.2 943.5,392.7 C945.9,394.2 948.2,395.7 950.5,397.2 C952.8,398.7 955.1,400.2 957.5,401.7 C959.8,403.1 962.1,404.6 964.4,406.1 C966.7,407.6 969.1,409.0 971.4,410.5 C973.7,412.0 976.0,413.4 978.3,414.9 C980.7,416.4 983.0,417.8 985.3,419.3 C987.6,420.7 989.9,422.2 992.3,423.6 C994.6,425.0 996.9,426.5 999.2,427.9 C1001.6,429.3 1003.9,430.8 1006.2,432.2 C1008.5,433.6 1010.8,435.0 1013.2,436.5 C1015.5,437.9 1017.8,439.3 1020.1,440.7 C1022.4,442.1 1024.8,443.5 1027.1,444.9 C1029.4,446.3 1031.7,447.7 1034.0,449.1 C1036.4,450.5 1038.7,451.9 1041.0,453.3 C1043.3,454.6 1045.6,456.0 1048.0,457.4 C1050.3,458.8 1052.6,460.1 1054.9,461.5 C1057.2,462.9 1059.6,464.2 1061.9,465.6 C1064.2,467.0 1066.5,468.3 1068.8,469.7 C1071.2,471.0 1074.6,473.0 1075.8,473.7" stroke="#008000" stroke-width="1.8"/>
</g>
<rect x="915.7" y="353.7" width="160.1" height="123.6" fill="none" stroke="#000" stroke-width="1.9"/>
<line x1="909.5" y1="353.7" x2="915.7" y2="353.7" stroke="#000" stroke-width="1.9"/>
<rect x="852.8" y="355.9" width="17.8" height="2.4"/>
<line x1="909.5" y1="436.4" x2="915.7" y2="436.4" stroke="#000" stroke-width="1.9"/>
<rect x="852.8" y="438.6" width="17.8" height="2.4"/>
<line x1="915.7" y1="477.3" x2="915.7" y2="483.5" stroke="#000" stroke-width="1.9"/>
<line x1="1075.8" y1="477.3" x2="1075.8" y2="483.5" stroke="#000" stroke-width="1.9"/>
<rect x="1235.6" y="304.6" width="106.5" height="24.6" fill="none" stroke="#555" stroke-width="1.5"/>
<line x1="915.7" y1="353.7" x2="1235.6" y2="304.6" stroke="#555" stroke-width="1.5"/>
<line x1="1075.8" y1="477.3" x2="1342.1" y2="329.2" stroke="#555" stroke-width="1.5"/>
<rect x="238.7" y="875.4" width="159.7" height="122.6" fill="#fff"/>
<g clip-path="url(#ci4)" fill="none" stroke-linejoin="round">
<path d="M238.7,910.6 C240.5,911.5 245.7,915.1 249.6,916.3 C253.5,917.5 258.1,917.2 262.4,917.9 C266.7,918.5 270.9,918.6 275.2,920.2 C279.5,921.9 283.7,924.4 288.0,927.8 C292.3,931.2 296.5,936.5 300.8,940.6 C305.1,944.7 309.3,949.5 313.6,952.2 C317.9,954.9 322.1,955.9 326.4,956.6 C330.7,957.3 334.9,956.1 339.2,956.6 C343.5,957.1 347.7,957.5 352.0,959.8 C356.3,962.0 360.5,965.6 364.8,970.1 C369.1,974.6 374.0,982.1 377.6,986.7 C381.2,991.4 384.5,995.3 386.6,998.0 C388.7,1000.7 389.4,1002.2 390.0,1003.0" stroke="#ff0000" stroke-width="1.2"/>
<path d="M238.7,906.1 C240.5,907.8 245.7,913.8 249.6,916.3 C253.5,918.8 258.1,921.0 262.4,921.2 C266.7,921.4 270.9,918.6 275.2,917.6 C279.5,916.6 283.7,914.7 288.0,915.3 C292.3,915.9 296.5,918.4 300.8,921.4 C305.1,924.4 309.3,929.1 313.6,933.0 C317.9,936.9 322.1,941.4 326.4,944.5 C330.7,947.6 334.9,950.2 339.2,951.9 C343.5,953.6 347.7,953.5 352.0,954.5 C356.3,955.5 360.5,955.7 364.8,957.9 C369.1,960.1 373.3,964.2 377.6,967.5 C381.9,970.8 386.9,974.8 390.4,977.8 C393.9,980.8 397.1,984.1 398.4,985.4" stroke="#0000ff" stroke-width="1.8"/>
<path d="M238.7,910.6 C240.5,911.5 245.7,915.1 249.6,916.3 C253.5,917.5 258.1,917.2 262.4,917.9 C266.7,918.5 270.9,918.6 275.2,920.2 C279.5,921.9 283.7,924.4 288.0,927.8 C292.3,931.2 296.5,936.5 300.8,940.6 C305.1,944.7 309.3,949.5 313.6,952.2 C317.9,954.9 322.1,955.9 326.4,956.6 C330.7,957.3 334.9,956.1 339.2,956.6 C343.5,957.1 347.7,957.5 352.0,959.8 C356.3,962.0 360.5,965.6 364.8,970.1 C369.1,974.6 374.0,982.1 377.6,986.7 C381.2,991.4 384.5,995.3 386.6,998.0 C388.7,1000.7 389.4,1002.2 390.0,1003.0" stroke="#008000" stroke-width="1.8"/>
</g>
<rect x="238.7" y="875.4" width="159.7" height="122.6" fill="none" stroke="#000" stroke-width="1.9"/>
<line x1="232.5" y1="906.1" x2="238.7" y2="906.1" stroke="#000" stroke-width="1.9"/>
<rect x="175.8" y="908.3" width="17.8" height="2.4"/>
<line x1="232.5" y1="967.9" x2="238.7" y2="967.9" stroke="#000" stroke-width="1.9"/>
<rect x="175.8" y="970.1" width="17.8" height="2.4"/>
<line x1="278.6" y1="998.0" x2="278.6" y2="1004.2" stroke="#000" stroke-width="1.9"/>
<line x1="358.5" y1="998.0" x2="358.5" y2="1004.2" stroke="#000" stroke-width="1.9"/>
<rect x="515.3" y="817.5" width="85.9" height="32.8" fill="none" stroke="#555" stroke-width="1.5"/>
<line x1="238.7" y1="875.4" x2="515.3" y2="817.5" stroke="#555" stroke-width="1.5"/>
<line x1="398.4" y1="998.0" x2="601.2" y2="850.3" stroke="#555" stroke-width="1.5"/>
<rect x="301.0" y="18.9" width="1549.5" height="54.7" rx="5" ry="5" fill="#fff" stroke="#d4d4d4" stroke-width="1.5"/>
<line x1="312.9" y1="42.4" x2="376.7" y2="42.4" stroke="#ff0000" stroke-width="2.1"/>
<rect x="689.2" y="41.6" width="18.4" height="2.2"/><rect x="689.2" y="47.5" width="18.4" height="2.2"/>
<line x1="841.6" y1="42.4" x2="905.4" y2="42.4" stroke="#0000ff" stroke-width="2.1"/>
<rect x="1217.9" y="41.6" width="18.4" height="2.2"/><rect x="1217.9" y="47.5" width="18.4" height="2.2"/>
<line x1="1370.3" y1="42.4" x2="1434.1" y2="42.4" stroke="#008000" stroke-width="2.1"/>
<rect x="1746.6" y="41.6" width="18.4" height="2.2"/><rect x="1746.6" y="47.5" width="18.4" height="2.2"/>
<text transform="translate(88.16,201.01) scale(0.9375,1)" font-size="33.5">60</text>
<text transform="translate(87.16,283.03) scale(0.9677,1)" font-size="33.5">70</text>
<text transform="translate(88.16,365.05) scale(0.9375,1)" font-size="33.5">80</text>
<text transform="translate(88.16,447.07) scale(0.9375,1)" font-size="33.5">90</text>
<text transform="translate(73.89,529.09) scale(0.9043,1)" font-size="33.5">100</text>
<text transform="translate(108.30,592.60) scale(0.9271,1)" font-size="33.5">500</text>
<text transform="translate(207.83,592.60) scale(0.9175,1)" font-size="33.5">1000</text>
<text transform="translate(314.20,592.60) scale(0.9206,1)" font-size="33.5">1500</text>
<text transform="translate(420.52,592.60) scale(0.9246,1)" font-size="33.5">2000</text>
<text transform="translate(527.19,592.60) scale(0.9262,1)" font-size="33.5">2500</text>
<text transform="translate(634.18,592.60) scale(0.9154,1)" font-size="33.5">3000</text>
<text transform="translate(383.58,139.20) scale(0.9162,1)" font-size="39.5">63</text>
<text transform="translate(430.06,139.20) scale(0.9432,1)" font-size="39.5">Hz</text>
<text transform="translate(765.26,201.01) scale(0.9375,1)" font-size="33.5">60</text>
<text transform="translate(764.26,283.03) scale(0.9677,1)" font-size="33.5">70</text>
<text transform="translate(765.26,365.05) scale(0.9375,1)" font-size="33.5">80</text>
<text transform="translate(765.26,447.07) scale(0.9375,1)" font-size="33.5">90</text>
<text transform="translate(750.99,529.09) scale(0.9043,1)" font-size="33.5">100</text>
<text transform="translate(785.40,592.60) scale(0.9271,1)" font-size="33.5">500</text>
<text transform="translate(884.93,592.60) scale(0.9175,1)" font-size="33.5">1000</text>
<text transform="translate(991.30,592.60) scale(0.9206,1)" font-size="33.5">1500</text>
<text transform="translate(1097.62,592.60) scale(0.9246,1)" font-size="33.5">2000</text>
<text transform="translate(1204.29,592.60) scale(0.9262,1)" font-size="33.5">2500</text>
<text transform="translate(1311.28,592.60) scale(0.9154,1)" font-size="33.5">3000</text>
<text transform="translate(1052.84,139.20) scale(0.8873,1)" font-size="39.5">125</text>
<text transform="translate(1116.57,139.20) scale(0.9341,1)" font-size="39.5">Hz</text>
<text transform="translate(1442.46,201.01) scale(0.9375,1)" font-size="33.5">60</text>
<text transform="translate(1441.46,283.03) scale(0.9677,1)" font-size="33.5">70</text>
<text transform="translate(1442.46,365.05) scale(0.9375,1)" font-size="33.5">80</text>
<text transform="translate(1442.46,447.07) scale(0.9375,1)" font-size="33.5">90</text>
<text transform="translate(1428.19,529.09) scale(0.9043,1)" font-size="33.5">100</text>
<text transform="translate(1462.60,592.60) scale(0.9271,1)" font-size="33.5">500</text>
<text transform="translate(1562.13,592.60) scale(0.9175,1)" font-size="33.5">1000</text>
<text transform="translate(1668.50,592.60) scale(0.9206,1)" font-size="33.5">1500</text>
<text transform="translate(1774.82,592.60) scale(0.9246,1)" font-size="33.5">2000</text>
<text transform="translate(1881.49,592.60) scale(0.9262,1)" font-size="33.5">2500</text>
<text transform="translate(1988.48,592.60) scale(0.9154,1)" font-size="33.5">3000</text>
<text transform="translate(1728.24,139.20) scale(0.9596,1)" font-size="39.5">250</text>
<text transform="translate(1793.05,139.20) scale(0.9455,1)" font-size="39.5">Hz</text>
<text transform="translate(88.16,722.51) scale(0.9375,1)" font-size="33.5">60</text>
<text transform="translate(87.16,804.53) scale(0.9677,1)" font-size="33.5">70</text>
<text transform="translate(88.16,886.55) scale(0.9375,1)" font-size="33.5">80</text>
<text transform="translate(88.16,968.57) scale(0.9375,1)" font-size="33.5">90</text>
<text transform="translate(73.89,1050.59) scale(0.9043,1)" font-size="33.5">100</text>
<text transform="translate(108.30,1114.10) scale(0.9271,1)" font-size="33.5">500</text>
<text transform="translate(207.83,1114.10) scale(0.9175,1)" font-size="33.5">1000</text>
<text transform="translate(314.20,1114.10) scale(0.9206,1)" font-size="33.5">1500</text>
<text transform="translate(420.52,1114.10) scale(0.9246,1)" font-size="33.5">2000</text>
<text transform="translate(527.19,1114.10) scale(0.9262,1)" font-size="33.5">2500</text>
<text transform="translate(634.18,1114.10) scale(0.9154,1)" font-size="33.5">3000</text>
<text transform="translate(373.56,660.00) scale(0.9679,1)" font-size="39.5">500</text>
<text transform="translate(439.35,660.00) scale(0.9455,1)" font-size="39.5">Hz</text>
<text transform="translate(765.26,722.51) scale(0.9375,1)" font-size="33.5">60</text>
<text transform="translate(764.26,804.53) scale(0.9677,1)" font-size="33.5">70</text>
<text transform="translate(765.26,886.55) scale(0.9375,1)" font-size="33.5">80</text>
<text transform="translate(765.26,968.57) scale(0.9375,1)" font-size="33.5">90</text>
<text transform="translate(750.99,1050.59) scale(0.9043,1)" font-size="33.5">100</text>
<text transform="translate(785.40,1114.10) scale(0.9271,1)" font-size="33.5">500</text>
<text transform="translate(884.93,1114.10) scale(0.9175,1)" font-size="33.5">1000</text>
<text transform="translate(991.30,1114.10) scale(0.9206,1)" font-size="33.5">1500</text>
<text transform="translate(1097.62,1114.10) scale(0.9246,1)" font-size="33.5">2000</text>
<text transform="translate(1204.29,1114.10) scale(0.9262,1)" font-size="33.5">2500</text>
<text transform="translate(1311.28,1114.10) scale(0.9154,1)" font-size="33.5">3000</text>
<text transform="translate(1042.90,660.00) scale(0.9347,1)" font-size="39.5">1000</text>
<text transform="translate(1125.55,660.00) scale(0.9455,1)" font-size="39.5">Hz</text>
<text transform="translate(1442.46,722.51) scale(0.9375,1)" font-size="33.5">60</text>
<text transform="translate(1441.46,804.53) scale(0.9677,1)" font-size="33.5">70</text>
<text transform="translate(1442.46,886.55) scale(0.9375,1)" font-size="33.5">80</text>
<text transform="translate(1442.46,968.57) scale(0.9375,1)" font-size="33.5">90</text>
<text transform="translate(1428.19,1050.59) scale(0.9043,1)" font-size="33.5">100</text>
<text transform="translate(1462.60,1114.10) scale(0.9271,1)" font-size="33.5">500</text>
<text transform="translate(1562.13,1114.10) scale(0.9175,1)" font-size="33.5">1000</text>
<text transform="translate(1668.50,1114.10) scale(0.9206,1)" font-size="33.5">1500</text>
<text transform="translate(1774.82,1114.10) scale(0.9246,1)" font-size="33.5">2000</text>
<text transform="translate(1881.49,1114.10) scale(0.9262,1)" font-size="33.5">2500</text>
<text transform="translate(1988.48,1114.10) scale(0.9154,1)" font-size="33.5">3000</text>
<text transform="translate(1718.85,660.00) scale(0.9468,1)" font-size="39.5">2000</text>
<text transform="translate(1802.46,660.00) scale(0.9432,1)" font-size="39.5">Hz</text>
<text transform="translate(870.46,364.90) scale(0.9677,1)" font-size="33.5">74</text>
<text transform="translate(870.46,447.60) scale(0.9677,1)" font-size="33.5">76</text>
<text transform="translate(193.46,917.30) scale(0.9677,1)" font-size="33.5">74</text>
<text transform="translate(193.46,979.10) scale(0.9677,1)" font-size="33.5">76</text>
<text transform="translate(39.20,520.60) rotate(-90) scale(0.9931,1)" font-size="31">Transmission loss, <tspan font-style="italic">TL</tspan> [dB]</text>
<text transform="translate(39.20,1042.10) rotate(-90) scale(0.9931,1)" font-size="31">Transmission loss, <tspan font-style="italic">TL</tspan> [dB]</text>
<text transform="translate(225.90,1149.30) scale(0.9951,1)" font-size="31">Distance from source, <tspan font-style="italic">d</tspan> [m]</text>
<text transform="translate(903.00,1149.30) scale(0.9951,1)" font-size="31">Distance from source, <tspan font-style="italic">d</tspan> [m]</text>
<text transform="translate(1580.20,1149.30) scale(0.9951,1)" font-size="31">Distance from source, <tspan font-style="italic">d</tspan> [m]</text>
<text transform="translate(400.00,53.50) scale(0.9976,1)" font-size="31">Operational mode 0,</text>
<text transform="translate(661.10,53.50) scale(0.9667,1)" font-size="31" font-style="italic">U</text>
<text transform="translate(713.36,53.50) scale(0.9357,1)" font-size="31">6</text>
<text transform="translate(737.00,53.50) scale(0.9682,1)" font-size="31">m/s</text>
<text transform="translate(928.70,53.50) scale(0.9976,1)" font-size="31">Operational mode 3,</text>
<text transform="translate(1189.80,53.50) scale(0.9667,1)" font-size="31" font-style="italic">U</text>
<text transform="translate(1242.06,53.50) scale(0.9357,1)" font-size="31">6</text>
<text transform="translate(1265.70,53.50) scale(0.9682,1)" font-size="31">m/s</text>
<text transform="translate(1457.40,53.50) scale(0.9976,1)" font-size="31">Operational mode 6,</text>
<text transform="translate(1718.50,53.50) scale(0.9667,1)" font-size="31" font-style="italic">U</text>
<text transform="translate(1770.76,53.50) scale(0.9357,1)" font-size="31">6</text>
<text transform="translate(1794.40,53.50) scale(0.9682,1)" font-size="31">m/s</text></svg></body></html>
